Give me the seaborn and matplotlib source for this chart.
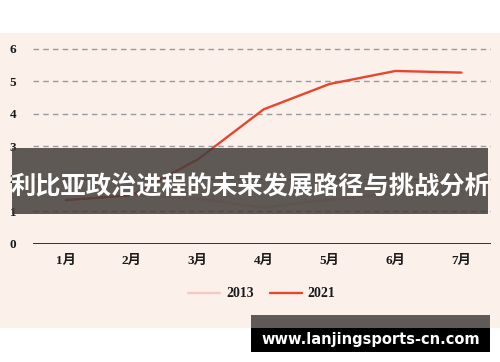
import pandas as pd
import seaborn as sns
import matplotlib.pyplot as plt
from matplotlib.patches import Rectangle

months = ['1月', '2月', '3月', '4月', '5月', '6月', '7月']
values_2013 = [1.35, 1.5, 1.4, 1.12, 1.36, 1.55, 1.6]
values_2021 = [1.35, 1.5, 2.6, 4.14, 4.92, 5.32, 5.27]
years = ['2013', '2021']
title = '利比亚政治进程的未来发展路径与挑战分析'
watermark = 'www.lanjingsports-cn.com'

df = pd.DataFrame({
    'month': months * 2,
    'value': values_2013 + values_2021,
    'year': ['2013'] * len(months) + ['2021'] * len(months),
})

sns.set_theme(style='white')
plt.rcParams['font.family'] = ['Liberation Serif', 'Noto Sans CJK SC']

fig = plt.figure(figsize=(5, 3.62), dpi=100, facecolor='white')
# pink card behind the chart
fig.patches.append(Rectangle((0, 0.094), 1, 0.815, transform=fig.transFigure,
                             facecolor='#fcf0eb', edgecolor='none', zorder=-10))

ax = fig.add_axes([0.066, 0.326, 0.916, 0.575])
ax.set_facecolor('none')

sns.lineplot(data=df, x='month', y='value', hue='year', sort=False,
             palette={'2013': '#f5c9c3', '2021': '#e8452c'}, linewidth=1.7, ax=ax)

ax.set_xlim(-0.5, 6.45)
ax.set_ylim(0, 6.4)
ax.set_yticks(range(0, 7))
for y in range(1, 7):
    ax.axhline(y, color='#9a9a9a', lw=1, ls=(0, (4, 3)), zorder=0)
ax.axhline(0, color='#222222', lw=1.3, zorder=1)
for s in ax.spines.values():
    s.set_visible(False)
ax.tick_params(axis='both', length=0, labelsize=9.5, colors='#1a1a1a')
ax.tick_params(axis='x', pad=8)
ax.tick_params(axis='y', pad=12)
for lab in ax.get_xticklabels() + ax.get_yticklabels():
    lab.set_fontweight('bold')
ax.set_xlabel('')
ax.set_ylabel('')

leg = ax.legend(loc='center', bbox_to_anchor=(0.5, -0.24), ncol=2, frameon=False,
                fontsize=10, handlelength=2.3, columnspacing=1.2, handletextpad=0.4)
for t in leg.get_texts():
    t.set_fontweight('bold')
    t.set_color('#1a1a1a')

# title banner across the middle
fig.patches.append(Rectangle((0.024, 0.409), 0.952, 0.182, transform=fig.transFigure,
                             facecolor='#433e3b', alpha=0.85, edgecolor='none', zorder=5))
fig.text(0.5, 0.484, title, color='white', fontsize=18.2, fontweight='bold',
         family=['Noto Sans CJK SC', 'DejaVu Sans'], ha='center', va='center', zorder=6)

# watermark
fig.patches.append(Rectangle((0.502, 0.094), 0.478, 0.036, transform=fig.transFigure,
                             facecolor='#5f5a57', edgecolor='none', zorder=5))
fig.patches.append(Rectangle((0.502, 0.028), 0.478, 0.066, transform=fig.transFigure,
                             facecolor='black', edgecolor='none', zorder=5))
fig.text(0.741, 0.063, watermark, color='white', fontsize=10.5, fontweight='bold',
         family='DejaVu Sans', ha='center', va='center', zorder=6)

fig.savefig('out.png', dpi=100)
